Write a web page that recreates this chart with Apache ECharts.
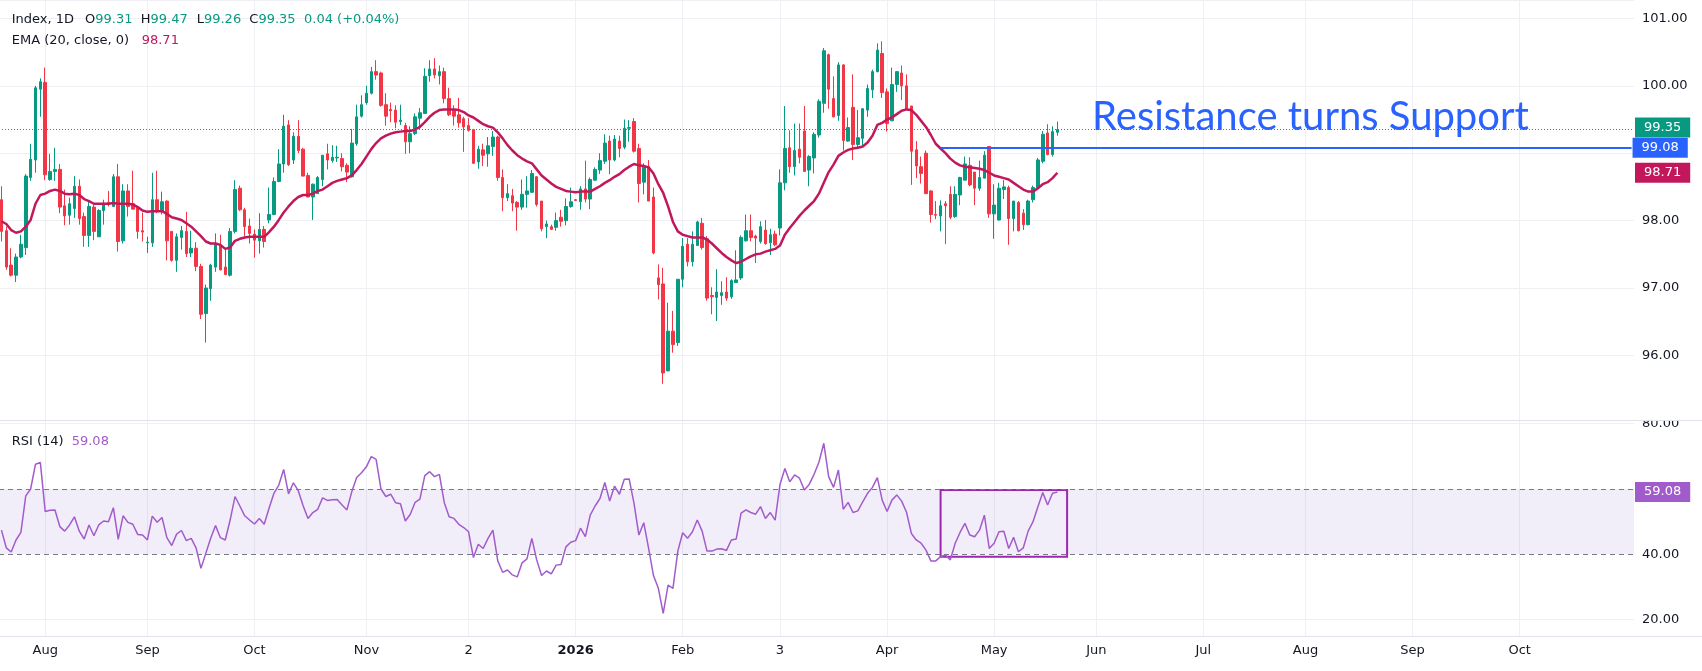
<!DOCTYPE html>
<html><head><meta charset="utf-8">
<script src="https://cdn.jsdelivr.net/npm/echarts@6/dist/echarts.min.js"></script>
<style>html,body{margin:0;padding:0;background:#fff;overflow:hidden}#c{width:1702px;height:671px}</style>
</head><body><div id="c"></div><script>
// ---- data (daily candles, Jul 21 2025 .. May 20 2026) ----
const opens = [98.31,97.85,97.34,97.19,97.46,97.60,98.64,98.90,99.95,100.05,
98.61,98.73,98.76,98.22,98.08,98.18,98.51,98.06,97.78,98.20,
97.76,98.15,98.27,98.21,98.65,97.70,98.44,98.25,98.19,97.85,
97.67,97.67,98.31,98.14,98.29,97.84,97.41,97.75,97.84,97.52,
97.59,97.32,96.62,96.99,97.31,97.63,97.31,97.19,97.84,98.48,
98.16,97.92,97.80,97.70,97.87,98.01,98.09,98.58,98.84,99.42,
98.90,99.25,99.06,98.67,98.35,98.40,98.61,98.99,98.89,98.93,
98.92,98.82,98.65,99.14,99.55,99.75,99.89,100.21,100.19,99.72,
99.65,99.64,99.47,99.41,99.17,99.29,99.52,99.59,100.15,100.25,
100.15,100.21,99.81,99.65,99.57,99.51,99.41,99.35,98.87,99.05,
98.99,99.10,99.24,98.64,98.34,98.37,98.27,98.20,98.39,98.42,
98.65,98.29,97.91,97.91,97.90,98.05,98.00,98.21,98.31,98.28,
98.47,98.32,98.60,98.75,98.88,99.18,98.90,99.18,99.09,99.37,
99.47,99.07,98.57,98.80,98.35,97.15,97.06,95.77,96.36,96.19,
97.13,97.65,97.39,97.63,97.96,97.73,96.89,96.86,96.89,96.94,
96.87,97.08,97.15,97.70,97.85,97.77,97.69,97.86,97.67,97.80,
97.89,98.56,99.08,98.80,99.06,99.33,98.75,98.93,99.27,99.74,
100.46,99.81,99.56,100.31,99.18,99.68,99.13,99.22,99.64,99.94,
100.21,100.48,99.91,99.48,100.02,100.19,100.00,99.70,99.05,98.80,
99.00,98.44,98.09,98.07,98.25,98.39,98.06,98.38,98.60,98.82,
98.72,98.48,98.63,99.10,98.10,98.01,98.46,98.49,98.03,98.27,
98.11,97.94,98.31,98.49,98.88,99.30,98.98,99.31];
const highs = [98.51,97.91,97.59,97.51,97.79,98.69,99.14,100.00,100.11,100.27,
98.99,99.08,98.84,98.46,98.34,98.66,98.61,98.12,98.29,98.24,
98.17,98.31,98.44,98.69,98.84,98.54,98.54,98.74,98.21,98.12,
97.76,98.71,98.74,98.43,98.30,97.84,97.81,97.92,98.13,97.85,
97.68,97.36,97.05,97.36,97.81,97.79,97.57,97.89,98.60,98.52,
98.19,98.03,97.87,98.11,97.92,98.49,98.64,99.06,99.57,99.49,
99.31,99.49,99.08,98.71,98.55,98.66,98.97,99.14,99.12,99.11,
99.00,98.85,99.36,99.72,99.86,100.00,100.28,100.38,100.21,99.89,
99.75,99.71,99.72,99.45,99.40,99.59,99.67,100.26,100.38,100.41,
100.30,100.27,99.97,99.71,99.82,99.54,99.52,99.36,99.11,99.14,
99.24,99.33,99.26,98.76,98.54,98.47,98.29,98.61,98.66,98.75,
98.66,98.29,98.00,97.94,98.12,98.16,98.33,98.49,98.32,98.51,
98.89,98.64,98.79,99.00,99.28,99.26,99.27,99.26,99.50,99.49,
99.52,99.14,98.85,98.90,98.49,97.35,97.30,96.78,96.66,97.13,
97.74,97.74,97.84,98.00,98.04,97.77,97.01,97.28,97.10,97.16,
97.13,97.56,97.78,98.09,98.09,97.79,97.99,98.01,97.88,97.85,
98.76,99.70,99.34,99.44,99.44,99.70,98.97,99.31,99.80,100.56,
100.48,100.14,100.35,100.32,99.53,100.17,99.64,99.67,100.02,100.24,
100.63,100.66,99.96,100.27,100.22,100.30,100.17,99.70,99.18,98.95,
99.04,98.45,98.29,98.30,98.29,98.51,98.51,98.65,98.95,98.94,
98.72,98.89,99.03,99.10,98.54,98.56,98.60,98.52,98.29,98.29,
98.17,98.31,98.52,98.93,99.33,99.43,99.40,99.47];
const lows = [97.69,97.27,97.17,97.09,97.44,97.49,98.59,98.71,99.54,98.60,
98.59,98.59,98.11,97.93,97.94,98.04,97.94,97.61,97.61,97.71,
97.76,97.94,98.21,98.21,97.54,97.66,98.06,98.17,97.73,97.69,
97.52,97.61,98.11,98.09,97.41,97.39,97.24,97.57,97.46,97.46,
97.25,96.54,96.19,96.81,97.24,97.26,97.19,97.17,97.81,98.14,
97.76,97.66,97.45,97.51,97.60,97.96,98.08,98.57,98.71,98.81,
98.84,99.00,98.66,98.35,98.01,98.40,98.51,98.76,98.86,98.87,
98.73,98.57,98.64,99.11,99.53,99.72,99.87,100.09,99.69,99.41,
99.46,99.37,99.42,98.99,99.00,99.27,99.36,99.59,100.06,100.11,
100.02,99.74,99.55,99.41,99.38,99.02,99.32,98.84,98.77,98.81,
98.80,98.96,98.59,98.14,98.29,98.14,97.85,98.16,98.19,98.41,
98.21,97.84,97.74,97.86,97.85,97.91,97.93,98.19,98.29,98.16,
98.27,98.17,98.59,98.69,98.84,98.69,98.88,98.94,99.06,99.17,
99.01,98.27,98.39,98.29,97.50,96.83,95.58,95.77,96.04,96.14,
97.01,97.32,97.32,97.63,97.57,96.81,96.61,96.51,96.75,96.81,
96.84,97.08,97.12,97.69,97.69,97.37,97.66,97.64,97.49,97.62,
97.78,98.45,98.71,98.67,98.85,98.73,98.51,98.70,99.23,99.60,
99.66,99.53,99.48,99.04,99.17,98.90,99.08,99.12,99.54,99.82,
100.20,99.82,99.32,99.48,99.91,99.79,99.65,98.53,98.63,98.55,
98.40,97.97,98.02,97.84,97.65,98.02,98.04,98.23,98.60,98.51,
98.23,98.44,98.63,98.04,97.73,98.00,98.32,97.64,97.84,97.84,
97.86,97.93,98.27,98.48,98.85,98.97,98.95,99.26];
const closes = [97.84,97.31,97.19,97.46,97.65,98.66,98.91,99.97,100.06,98.68,
98.73,98.76,98.20,98.07,98.25,98.51,98.03,97.78,98.21,97.84,
98.15,98.26,98.24,98.65,97.69,98.44,98.21,98.17,97.84,97.83,
97.68,98.31,98.14,98.28,97.70,97.41,97.76,97.85,97.51,97.59,
97.32,96.61,97.00,97.34,97.65,97.27,97.20,97.84,98.46,98.16,
97.91,97.81,97.71,97.87,97.69,98.09,98.58,98.84,99.40,98.83,
99.25,99.04,98.66,98.35,98.54,98.64,98.97,98.90,98.94,98.94,
98.80,98.72,99.15,99.54,99.72,99.89,100.21,100.16,99.71,99.55,
99.63,99.46,99.49,99.17,99.29,99.54,99.60,100.14,100.25,100.16,
100.21,99.81,99.57,99.55,99.45,99.39,99.34,98.85,99.06,98.97,
99.11,99.24,98.64,98.34,98.40,98.26,98.20,98.39,98.44,98.70,
98.24,97.88,97.95,97.87,98.00,97.99,98.21,98.28,98.30,98.47,
98.32,98.61,98.76,98.89,99.15,98.90,99.21,99.07,99.37,99.38,
99.03,98.55,98.80,98.29,97.52,97.05,95.74,96.36,96.16,97.13,
97.62,97.39,97.65,97.98,97.60,96.85,96.87,96.94,96.93,96.85,
97.11,97.12,97.75,97.85,97.75,97.74,97.91,97.66,97.79,97.64,
98.56,99.07,98.80,99.04,98.94,98.73,98.95,99.28,99.77,100.52,
99.95,99.54,100.31,99.19,99.38,99.13,99.23,99.66,99.96,100.21,
100.53,99.90,99.44,100.02,100.21,100.00,99.66,99.03,98.81,98.70,
98.40,98.09,98.08,98.22,98.22,98.05,98.39,98.64,98.84,98.53,
98.48,98.64,98.97,98.10,98.23,98.48,98.50,98.03,98.29,97.85,
97.94,98.29,98.49,98.90,99.28,98.98,99.32,99.35];
const ema20 = [97.99,97.95,97.86,97.82,97.84,97.91,98.01,98.25,98.38,98.40,
98.44,98.46,98.44,98.40,98.39,98.40,98.38,98.32,98.29,98.25,
98.25,98.25,98.25,98.26,98.25,98.25,98.25,98.24,98.20,98.15,
98.13,98.14,98.14,98.14,98.10,98.05,98.03,98.01,97.96,97.91,
97.84,97.77,97.69,97.66,97.66,97.64,97.58,97.60,97.70,97.73,
97.75,97.76,97.76,97.76,97.76,97.83,97.91,98.01,98.12,98.21,
98.29,98.35,98.38,98.38,98.40,98.44,98.46,98.51,98.56,98.59,
98.61,98.63,98.67,98.75,98.84,98.95,99.06,99.15,99.22,99.26,
99.29,99.31,99.32,99.33,99.33,99.35,99.39,99.46,99.54,99.60,
99.64,99.65,99.65,99.65,99.64,99.61,99.56,99.53,99.48,99.43,
99.40,99.38,99.31,99.22,99.12,99.04,98.97,98.92,98.88,98.85,
98.76,98.67,98.61,98.55,98.50,98.47,98.44,98.43,98.42,98.43,
98.43,98.43,98.47,98.51,98.56,98.60,98.65,98.69,98.75,98.80,
98.84,98.82,98.81,98.79,98.70,98.54,98.41,98.21,97.98,97.84,
97.79,97.77,97.75,97.75,97.75,97.72,97.66,97.59,97.52,97.46,
97.41,97.37,97.39,97.43,97.47,97.50,97.51,97.54,97.56,97.58,
97.63,97.79,97.89,97.98,98.07,98.15,98.22,98.29,98.40,98.56,
98.72,98.83,98.96,99.01,99.05,99.07,99.08,99.10,99.16,99.26,
99.42,99.45,99.50,99.53,99.58,99.63,99.65,99.64,99.57,99.48,
99.39,99.27,99.14,99.07,99.00,98.92,98.86,98.82,98.80,98.79,
98.78,98.77,98.75,98.71,98.67,98.65,98.63,98.61,98.56,98.51,
98.46,98.43,98.43,98.48,98.54,98.57,98.63,98.71];
const rsi14 = [47.4,42.0,40.7,44.4,46.7,57.9,60.0,67.6,68.1,53.1,
53.5,53.6,48.5,47.1,49.0,51.5,47.1,44.7,49.0,45.7,
49.0,50.2,50.0,54.3,44.6,51.8,49.8,49.2,46.1,45.9,
44.4,51.7,49.8,51.3,45.1,42.7,46.2,47.3,44.2,44.9,
42.0,35.7,40.3,44.9,48.8,45.1,44.4,50.5,57.7,54.8,
51.8,50.5,49.3,51.0,49.2,54.1,58.7,61.2,66.0,58.5,
61.9,59.5,54.9,51.0,52.8,53.8,57.3,56.5,56.7,56.8,
55.1,53.6,59.2,63.5,65.0,66.8,69.9,69.1,60.0,57.7,
58.4,55.8,55.5,50.2,52.2,55.9,56.9,64.1,65.3,63.8,
64.5,55.9,51.5,51.0,49.2,48.2,46.9,39.0,43.1,41.8,
44.9,47.4,38.0,34.5,35.2,33.7,33.1,37.4,38.6,44.9,
38.3,33.5,34.9,34.0,36.7,36.9,42.3,43.7,44.2,48.0,
45.4,52.0,54.8,57.1,62.0,56.3,60.9,58.4,63.0,63.1,
55.6,45.9,49.7,41.8,33.5,29.6,21.9,30.6,29.6,41.0,
46.6,44.9,46.9,50.5,47.1,41.0,41.0,41.6,41.7,41.2,
44.4,44.7,52.6,53.6,52.8,52.3,54.6,51.0,52.8,50.5,
61.4,66.3,62.2,64.3,63.3,59.7,61.4,64.5,68.2,74.0,
63.8,60.5,65.8,53.8,55.9,52.8,53.3,56.1,58.7,60.5,
63.5,56.6,53.1,56.6,58.2,56.3,52.9,46.4,44.4,43.4,
41.3,38.0,38.0,39.3,39.8,38.3,43.4,46.7,49.5,45.9,
45.4,47.4,52.0,41.8,43.4,46.9,47.1,41.8,45.2,40.8,
42.0,47.1,50.0,54.6,58.9,55.1,58.7,59.08];
const tickIdx  = [9,30,52,75,96,118,140,160,182,204,225,247,268,290,312];
const tickText = ['Aug','Sep','Oct','Nov','2','2026','Feb','3','Apr','May','Jun','Jul','Aug','Sep','Oct'];
const priceTicks = [96,97,98,100,101];
const rsiTicks = [20,40,80];
const rsiBands = [40,60];
const lastClose = 99.35, supportLevel = 99.08, emaLast = 98.71, rsiLast = 59.08;
const supportStart = 193;
const rsiBox = [193, 219, 39.3, 59.7];
const legendTop = ['Index, 1D', 'O99.31', 'H99.47', 'L99.26', 'C99.35', '0.04 (+0.04%)'];
const nSlots = 336;

// ---- chart ----
const F = 'DejaVu Sans';
const TXT = '#131722';
const GRID_C = '#eef0f3';
const UP = '#089981', DOWN = '#f23645', EMA_C = '#c2185b', RSI_C = '#a25bcb', BLUE = '#2962ff';
const categories = Array.from({length: nSlots}, (_, i) => String(i));
const candles = opens.map((o, i) => [o, closes[i], lows[i], highs[i]]);
const isTick = i => tickIdx.indexOf(i) >= 0;
const near = (arr, v) => arr.some(t => Math.abs(t - v) < 1e-6);
const badge = (bg, txt) => ({show: true, position: 'end', distance: 1, formatter: txt, color: '#fff',
  backgroundColor: bg, padding: [4, 9, 3, 9], fontFamily: F, fontSize: 13});
const hidden = {color: 'rgba(0,0,0,0)', width: 0};

const chart = echarts.init(document.getElementById('c'));
const xCommon = {type: 'category', data: categories, boundaryGap: true,
  axisLine: {show: false}, axisTick: {show: false},
  splitLine: {show: true, interval: (i) => isTick(i), alignWithLabel: true, lineStyle: {color: GRID_C, width: 1}}};

const legendEls = [];
const topX = [11.7, 85, 140.7, 196.7, 249.3, 304];
legendTop.forEach((t, k) => {
  let rich;
  if (k === 0) rich = '{k|' + t + '}';
  else if (k === legendTop.length - 1) rich = '{v|' + t + '}';
  else rich = '{k|' + t[0] + '}{v|' + t.slice(1) + '}';
  legendEls.push({type: 'text', x: topX[k], y: 20, z: 50, style: {text: rich, textVerticalAlign: 'middle',
    rich: {k: {fill: TXT, fontFamily: F, fontSize: 13}, v: {fill: UP, fontFamily: F, fontSize: 13}}}});
});
legendEls.push({type: 'text', x: 11.7, y: 41, z: 50, style: {text: 'EMA (20, close, 0)', fill: TXT, font: '13px "DejaVu Sans"', textVerticalAlign: 'middle'}});
legendEls.push({type: 'text', x: 141.7, y: 41, z: 50, style: {text: emaLast.toFixed(2), fill: EMA_C, font: '13px "DejaVu Sans"', textVerticalAlign: 'middle'}});
legendEls.push({type: 'text', x: 11.7, y: 442, z: 50, style: {text: 'RSI (14)', fill: TXT, font: '13px "DejaVu Sans"', textVerticalAlign: 'middle'}});
legendEls.push({type: 'text', x: 71.7, y: 442, z: 50, style: {text: rsiLast.toFixed(2), fill: RSI_C, font: '13px "DejaVu Sans"', textVerticalAlign: 'middle'}});

chart.setOption({
  animation: false,
  backgroundColor: '#ffffff',
  grid: [
    {left: -1, right: 68, top: 0, height: 422.8, outerBoundsMode: 'none', containLabel: false},
    {left: -1, right: 68, top: 420, height: 216, outerBoundsMode: 'none', containLabel: false}
  ],
  xAxis: [
    Object.assign({}, xCommon, {gridIndex: 0, axisLabel: {show: false}}),
    Object.assign({}, xCommon, {gridIndex: 1, axisLabel: {show: true, interval: (i) => isTick(i), margin: 8,
      fontFamily: F, fontSize: 13, color: TXT,
      formatter: (v, i) => { const k = tickIdx.indexOf(i); if (k < 0) return ''; return tickText[k] === '2026' ? '{b|2026}' : tickText[k]; },
      rich: {b: {fontWeight: 'bold', fontFamily: F, fontSize: 13, color: TXT}}}})
  ],
  yAxis: [
    {type: 'value', gridIndex: 0, position: 'right', min: 95, max: 101.273, interval: 1,
     axisLine: {show: false}, axisTick: {show: false}, splitLine: {show: true, lineStyle: {color: GRID_C}},
     axisLabel: {margin: 8, fontFamily: F, fontSize: 13, color: TXT, formatter: v => near(priceTicks, v) ? v.toFixed(2) : ''}},
    {type: 'value', gridIndex: 1, position: 'right', min: 15, max: 81.13, interval: 5,
     axisLine: {show: false}, axisTick: {show: false}, splitLine: {show: false},
     axisLabel: {margin: 8, fontFamily: F, fontSize: 13, color: TXT, formatter: v => near(rsiTicks, v) ? v.toFixed(2) : ''}}
  ],
  series: [
    {type: 'candlestick', xAxisIndex: 0, yAxisIndex: 0, data: candles, barWidth: 3,
     itemStyle: {color: UP, color0: DOWN, borderColor: UP, borderColor0: DOWN, borderWidth: 1},
     markLine: {silent: true, symbol: ['none', 'none'], animation: false, data: [
       {yAxis: lastClose, lineStyle: {color: UP, type: [1, 2], width: 1}, label: Object.assign(badge(UP, lastClose.toFixed(2)), {offset: [0, -2]})},
       [{coord: [supportStart, supportLevel], lineStyle: {color: BLUE, width: 2, type: 'solid'}, label: badge(BLUE, supportLevel.toFixed(2))},
        {coord: [nSlots - 1, supportLevel], lineStyle: {color: BLUE, width: 2, type: 'solid'}, label: badge(BLUE, supportLevel.toFixed(2))}]
     ]}},
    {type: 'line', xAxisIndex: 0, yAxisIndex: 0, data: ema20, symbol: 'none', showSymbol: false, z: 3,
     lineStyle: {color: EMA_C, width: 2.5},
     markLine: {silent: true, symbol: ['none', 'none'], animation: false, data: [
       {yAxis: emaLast, lineStyle: hidden, label: badge(EMA_C, emaLast.toFixed(2))}
     ]}},
    {type: 'line', xAxisIndex: 1, yAxisIndex: 1, data: rsi14, symbol: 'none', showSymbol: false, z: 3,
     lineStyle: {color: RSI_C, width: 1.5},
     markArea: {silent: true, animation: false, data: [
       [{yAxis: rsiBands[0], itemStyle: {color: 'rgba(126,87,194,0.10)'}}, {yAxis: rsiBands[1]}],
       [{coord: [rsiBox[0], rsiBox[3]], itemStyle: {color: 'rgba(0,0,0,0)', borderColor: '#9c27b0', borderWidth: 2}},
        {coord: [rsiBox[1], rsiBox[2]]}]
     ]},
     markLine: {silent: true, symbol: ['none', 'none'], animation: false, data: [
       {yAxis: rsiBands[1], lineStyle: {color: '#787b86', type: [5, 4], width: 1}, label: {show: false}},
       {yAxis: rsiBands[0], lineStyle: {color: '#787b86', type: [5, 4], width: 1}, label: {show: false}},
       {yAxis: 80, lineStyle: {color: GRID_C, type: 'solid', width: 1}, label: {show: false}},
       {yAxis: 20, lineStyle: {color: GRID_C, type: 'solid', width: 1}, label: {show: false}},
       {yAxis: rsiLast, lineStyle: hidden, label: badge(RSI_C, rsiLast.toFixed(2))}
     ]}}
  ],
  graphic: [
    {type: 'rect', z: 90, shape: {x: 1636, y: 406, width: 66, height: 14}, style: {fill: '#ffffff'}},
    {type: 'line', z: 91, shape: {x1: 0, y1: 420.5, x2: 1702, y2: 420.5}, style: {stroke: '#e0e3eb', lineWidth: 1}},
    {type: 'line', z: 91, shape: {x1: 0, y1: 636.5, x2: 1702, y2: 636.5}, style: {stroke: '#e0e3eb', lineWidth: 1}},
    {type: 'text', z: 60, x: 1092, y: 117, style: {text: 'Resistance turns Support', fill: BLUE,
      font: '40px Lato', textVerticalAlign: 'middle'}}
  ].concat(legendEls)
});
</script></body></html>
